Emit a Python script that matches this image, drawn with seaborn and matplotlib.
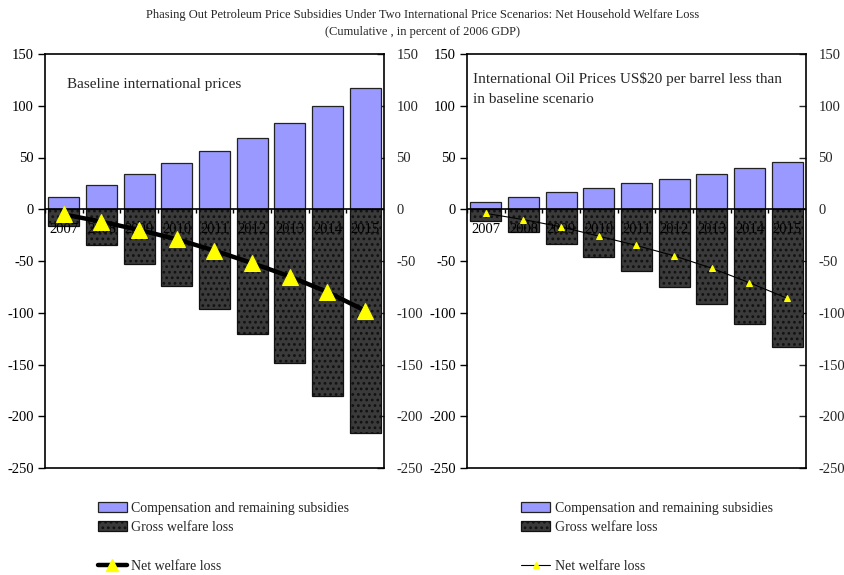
import numpy as np
import pandas as pd
import matplotlib
matplotlib.use("Agg")
import matplotlib.pyplot as plt
import seaborn as sns
from matplotlib.patches import Patch
from matplotlib.lines import Line2D

sns.set_theme(style="white")
plt.rcParams["font.family"] = ["Liberation Serif", "DejaVu Serif"]
plt.rcParams["hatch.linewidth"] = 1.2

years = ["2007", "2008", "2009", "2010", "2011", "2012", "2013", "2014", "2015"]

# Baseline international prices
base_comp = [12, 23, 34, 45, 56, 69, 83, 100, 117]
base_gross = [-16, -35, -53, -74, -96, -121, -149, -180, -216]
base_net = [-5, -12, -20, -29, -40, -52, -65, -80, -98]

# Oil prices US$20 per barrel below baseline
low_comp = [7, 12, 17, 21, 25, 29, 34, 40, 46]
low_gross = [-11, -22, -34, -46, -60, -75, -92, -111, -133]
low_net = [-4, -10, -17, -26, -35, -45, -57, -71, -86]

yticks = [150, 100, 50, 0, -50, -100, -150, -200, -250]

COMP_COLOR = "#9999FF"
GROSS_COLOR = "#3a3a3a"
LEG_FONT = 10
TICK_FONT = 10.5

fig = plt.figure(figsize=(8.45, 5.75), dpi=100)
fig.patch.set_facecolor("white")

fig.text(0.5, 1 - 15 / 575,
         "Phasing Out Petroleum Price Subsidies Under Two International Price Scenarios: Net Household Welfare Loss",
         ha="center", va="center", fontsize=9)
fig.text(0.5, 1 - 32 / 575, "(Cumulative , in percent of 2006 GDP)",
         ha="center", va="center", fontsize=9)

ax_w = 339 / 845
ax_h = 414 / 575
ax_b = 1 - 468 / 575
ax_left = fig.add_axes([45 / 845, ax_b, ax_w, ax_h])
ax_right = fig.add_axes([467 / 845, ax_b, ax_w, ax_h])


def draw_panel(ax, comp, gross, net, label, label_pos, thick, leg_x):
    df = pd.DataFrame({"year": years, "comp": comp, "gross": gross, "net": net})
    sns.barplot(data=df, x="year", y="comp", order=years, color=COMP_COLOR,
                saturation=1, width=0.82, edgecolor="#222222", linewidth=0.9,
                ax=ax, zorder=2)
    sns.barplot(data=df, x="year", y="gross", order=years, color=GROSS_COLOR,
                saturation=1, width=0.82, edgecolor="#111111", linewidth=0.9,
                hatch="...", ax=ax, zorder=2)
    if thick:
        lw, ms, leg_ms = 3.2, 11, 9
    else:
        lw, ms, leg_ms = 0.8, 5, 5
    sns.lineplot(x=np.arange(len(years)), y=df["net"], color="black", lw=lw,
                 marker="^", markersize=ms, markerfacecolor="#FFFF00",
                 markeredgecolor="#FFFF00", ax=ax, zorder=6)

    ax.set_xlim(-0.5, len(years) - 0.5)
    ax.set_ylim(-250, 150)
    ax.set_xlabel("")
    ax.set_ylabel("")
    ax.set_yticks(yticks)
    ax.set_yticklabels([str(v) for v in yticks], fontsize=TICK_FONT)
    ax.tick_params(axis="y", which="major", direction="out", length=5,
                   width=1, pad=3, left=True, colors="black")
    ax.set_xticks([])
    for sp in ax.spines.values():
        sp.set_visible(True)
        sp.set_color("black")
        sp.set_linewidth(1.2)

    # category axis crossing at zero, with year labels sitting over the bars
    ax.axhline(0, color="black", lw=1.2, zorder=4)
    ax.vlines(np.arange(-0.5, len(years), 1.0), -4, 0, color="black",
              lw=1, zorder=4)
    for i, yr in enumerate(years):
        ax.annotate(yr, xy=(i, 0), xytext=(0, -10), textcoords="offset points",
                    ha="center", va="top", fontsize=TICK_FONT, color="black",
                    zorder=5)

    # mirrored value axis on the right
    secy = ax.secondary_yaxis("right")
    secy.set_yticks(yticks)
    secy.set_yticklabels([str(v) for v in yticks], fontsize=TICK_FONT)
    secy.tick_params(direction="in", length=5, width=1, pad=9)
    secy.spines["right"].set_visible(False)

    ax.text(label_pos[0], label_pos[1], label, transform=ax.transAxes,
            ha="left", va="top", fontsize=11, linespacing=1.75)

    handles = [
        Patch(facecolor=COMP_COLOR, edgecolor="#222222", linewidth=0.9),
        Patch(facecolor=GROSS_COLOR, edgecolor="#111111", linewidth=0.9, hatch="..."),
        Line2D([], [], color="none"),
        Line2D([], [], color="black", lw=lw, marker="^", markersize=leg_ms,
               markerfacecolor="#FFFF00", markeredgecolor="#FFFF00"),
    ]
    labels = ["Compensation and remaining subsidies", "Gross welfare loss", "",
              "Net welfare loss"]
    ax.legend(handles, labels, loc="upper left", bbox_to_anchor=(leg_x, -0.082),
              frameon=False, fontsize=LEG_FONT, handlelength=2.1,
              handletextpad=0.3, labelspacing=0.45, borderpad=0,
              borderaxespad=0)


draw_panel(ax_left, base_comp, base_gross, base_net,
           "Baseline international prices", (0.065, 0.942), True, 0.155)
draw_panel(ax_right, low_comp, low_gross, low_net,
           "International Oil Prices US\\$20 per barrel less than\nin baseline scenario",
           (0.018, 0.957), False, 0.16)

fig.savefig("out.png", dpi=100, facecolor="white")
